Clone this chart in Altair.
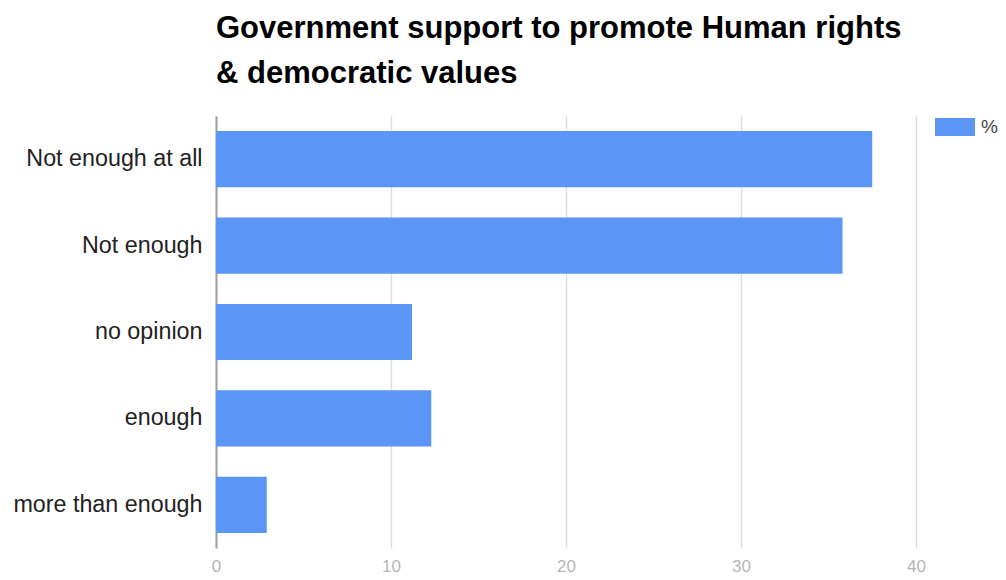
import altair as alt
import pandas as pd

categories = ["Not enough at all", "Not enough", "no opinion", "enough", "more than enough"]
values = [37.5, 35.8, 11.2, 12.3, 2.9]
series_name = "%"
x_ticks = [0, 10, 20, 30, 40]

df = pd.DataFrame({"category": categories, "value": values, "series": [series_name] * len(categories)})

FONT = "Liberation Sans"

chart = alt.Chart(df).mark_bar(color="#5b95f6").encode(
    y=alt.Y("category:N", sort=categories,
            scale=alt.Scale(paddingInner=0.35, paddingOuter=0.175),
            axis=alt.Axis(title=None, ticks=False, grid=False, domain=True,
                          domainColor="#9e9e9e", domainWidth=2,
                          labelFont=FONT, labelFontSize=23.3, labelColor="#222222",
                          labelPadding=14, labelLimit=400)),
    x=alt.X("value:Q", scale=alt.Scale(domain=[0, 40], nice=False),
            axis=alt.Axis(title=None, values=x_ticks, ticks=False, domain=False,
                          grid=True, gridColor="#dedede", gridWidth=1.5,
                          labelFont=FONT, labelFontSize=17, labelColor="#b5b5b5",
                          labelPadding=10, labelFlush=False)),
    color=alt.Color("series:N", scale=alt.Scale(range=["#5b95f6"]),
                    legend=alt.Legend(title=None, orient="none", legendX=719, legendY=-9,
                                      symbolType="M-1,-0.45H1V0.45H-1Z", symbolSize=1600,
                                      symbolStrokeWidth=0, symbolOpacity=1,
                                      labelFont=FONT, labelFontSize=19, labelColor="#444444",
                                      labelOffset=6, padding=0)),
).properties(
    width=700,
    height=432,
    title=alt.Title(["Government support to promote Human rights", "& democratic values"],
                    anchor="start", frame="group", font=FONT, fontSize=31, fontWeight="bold",
                    color="#000000", lineHeight=45, offset=17),
    autosize=alt.AutoSizeParams(type="none"),
    padding={"left": 208, "top": 108, "right": 82, "bottom": 28},
).configure_view(stroke=None)

chart.save("out.html", embed_options={"renderer": "svg", "actions": False})
